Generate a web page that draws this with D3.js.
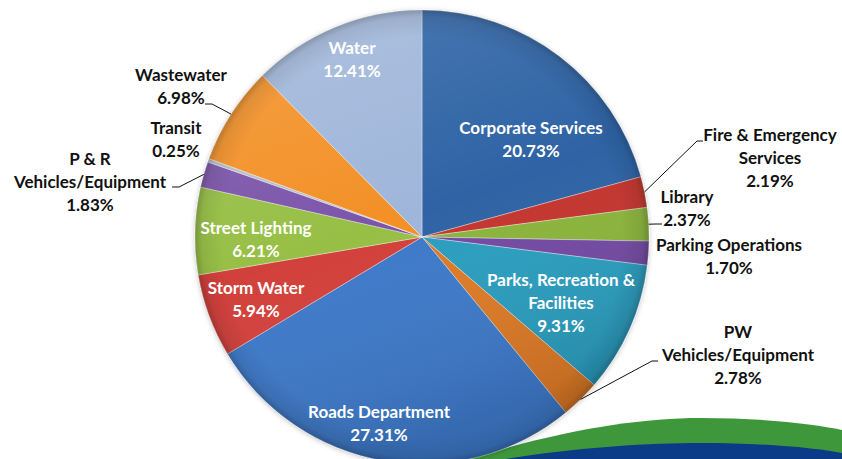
<!DOCTYPE html>
<html>
<head>
<meta charset="utf-8">
<script src="https://cdn.jsdelivr.net/npm/d3@7"></script>
<style>
  html, body { margin: 0; padding: 0; background: #fff; }
  svg { display: block; }
  text { font-family: Lato, "Open Sans", sans-serif; font-weight: 700; }
</style>
</head>
<body>
<svg id="chart" width="842" height="459"></svg>
<script>
// Capital budget share by service area (percent of total)
const categories = [
  "Corporate Services", "Fire & Emergency Services", "Library", "Parking Operations",
  "Parks, Recreation & Facilities", "PW Vehicles/Equipment", "Roads Department",
  "Storm Water", "Street Lighting", "P & R Vehicles/Equipment", "Transit",
  "Wastewater", "Water"
];
const shares = [20.73, 2.19, 2.37, 1.70, 9.31, 2.78, 27.31, 5.94, 6.21, 1.83, 0.25, 6.98, 12.41];
const sliceColors = [
  "#2e63a5", "#c3362f", "#8ab43a", "#7249a2", "#2b9dbf", "#dd7a26", "#3c79c9",
  "#d23f3b", "#97bf45", "#7c54aa", "#b6bdc9", "#f39025", "#9fb6da"
];
// label text lines for each slice
const labelLines = [
  ["Corporate Services", "20.73%"],
  ["Fire & Emergency", "Services", "2.19%"],
  ["Library", "2.37%"],
  ["Parking Operations", "1.70%"],
  ["Parks, Recreation &", "Facilities", "9.31%"],
  ["PW", "Vehicles/Equipment", "2.78%"],
  ["Roads Department", "27.31%"],
  ["Storm Water", "5.94%"],
  ["Street Lighting", "6.21%"],
  ["P & R", "Vehicles/Equipment", "1.83%"],
  ["Transit", "0.25%"],
  ["Wastewater", "6.98%"],
  ["Water", "12.41%"]
];

const data = categories.map((c, i) => ({ name: c, value: shares[i], color: sliceColors[i], lines: labelLines[i] }));

const svg = d3.select("#chart");
const cx = 422, cy = 237, R = 227;

// label placement: centre x, first-line y, text colour, optional leader elbow
const labelLayout = {
  "Corporate Services":            { x: 531, y: 128, fill: "#fff" },
  "Fire & Emergency Services":     { x: 770, y: 135, fill: "#111", leader: [[697, 141], [703, 141]] },
  "Library":                       { x: 687, y: 197, fill: "#111", leader: [[656, 224], [662, 224]] },
  "Parking Operations":            { x: 729, y: 245, fill: "#111" },
  "Parks, Recreation & Facilities":{ x: 561, y: 280, fill: "#fff" },
  "PW Vehicles/Equipment":         { x: 738, y: 332, fill: "#111", leader: [[652, 361], [658, 361]] },
  "Roads Department":              { x: 379, y: 412, fill: "#fff" },
  "Storm Water":                   { x: 256, y: 288, fill: "#fff" },
  "Street Lighting":               { x: 256, y: 228, fill: "#fff" },
  "P & R Vehicles/Equipment":      { x: 90,  y: 159, fill: "#111", leader: [[179, 187], [172, 187]] },
  "Transit":                       { x: 176, y: 128, fill: "#111" },
  "Wastewater":                    { x: 181, y: 75,  fill: "#111", leader: [[212, 104], [205, 104]] },
  "Water":                         { x: 352, y: 48,  fill: "#fff" }
};

const defs = svg.append("defs");

// soft shadow under the pie
const shadow = defs.append("filter").attr("id", "pieShadow")
  .attr("x", "-10%").attr("y", "-10%").attr("width", "120%").attr("height", "120%");
shadow.append("feDropShadow").attr("dx", 0).attr("dy", 1).attr("stdDeviation", 2.5)
  .attr("flood-color", "#000").attr("flood-opacity", 0.25);

// overall top-light / bottom-dark sheen
const sheen = defs.append("linearGradient").attr("id", "sheen")
  .attr("x1", 0).attr("y1", 0).attr("x2", 0.35).attr("y2", 1);
sheen.append("stop").attr("offset", "0%").attr("stop-color", "#fff").attr("stop-opacity", 0.16);
sheen.append("stop").attr("offset", "55%").attr("stop-color", "#fff").attr("stop-opacity", 0);
sheen.append("stop").attr("offset", "100%").attr("stop-color", "#000").attr("stop-opacity", 0.12);

// darker rim near the outer edge
const rim = defs.append("radialGradient").attr("id", "rim")
  .attr("cx", 0.5).attr("cy", 0.5).attr("r", 0.5);
rim.append("stop").attr("offset", "88%").attr("stop-color", "#000").attr("stop-opacity", 0);
rim.append("stop").attr("offset", "97%").attr("stop-color", "#000").attr("stop-opacity", 0.08);
rim.append("stop").attr("offset", "100%").attr("stop-color", "#000").attr("stop-opacity", 0.22);

// decorative swoosh in the lower right corner, sitting behind the pie
svg.append("path")
  .attr("d", "M470,459 C560,430 640,418 700,418 C765,418 815,424 842,430 L842,459 Z")
  .attr("fill", "#3f973c");
svg.append("path")
  .attr("d", "M505,459 C580,447 650,443 700,443 C765,443 815,448 842,453 L842,459 Z")
  .attr("fill", "#0b3b86");

const pie = d3.pie().value(d => d.value).sort(null);
const arcs = pie(data);
const arc = d3.arc().innerRadius(0).outerRadius(R);

const g = svg.append("g").attr("transform", `translate(${cx},${cy})`);

const slices = g.append("g").attr("filter", "url(#pieShadow)");
slices.selectAll("path.slice")
  .data(arcs)
  .join("path")
  .attr("class", "slice")
  .attr("d", arc)
  .attr("fill", d => d.data.color)
  .attr("stroke", "rgba(255,255,255,0.45)")
  .attr("stroke-width", 0.8)
  .attr("stroke-linejoin", "round");

// shading overlays across the whole disc
g.append("circle").attr("r", R).attr("fill", "url(#sheen)").attr("pointer-events", "none");
g.append("circle").attr("r", R).attr("fill", "url(#rim)").attr("pointer-events", "none");

// leader lines from the slice rim to the outside labels
const rimPoint = d => {
  const a = (d.startAngle + d.endAngle) / 2;
  return [cx + R * Math.sin(a), cy - R * Math.cos(a)];
};
const line = d3.line();
svg.append("g").selectAll("path.leader")
  .data(arcs.filter(d => labelLayout[d.data.name].leader))
  .join("path")
  .attr("class", "leader")
  .attr("d", d => line([rimPoint(d), ...labelLayout[d.data.name].leader]))
  .attr("fill", "none")
  .attr("stroke", "#111")
  .attr("stroke-width", 1);

// labels
const lineGap = 23;
const labels = svg.append("g").selectAll("text.label")
  .data(arcs)
  .join("text")
  .attr("class", "label")
  .attr("text-anchor", "middle")
  .attr("font-size", 17)
  .attr("fill", d => labelLayout[d.data.name].fill);
labels.each(function (d) {
  const L = labelLayout[d.data.name];
  d3.select(this).selectAll("tspan")
    .data(d.data.lines)
    .join("tspan")
    .attr("x", L.x)
    .attr("y", (t, i) => L.y + i * lineGap)
    .attr("dy", "0.36em")
    .text(t => t);
});
</script>
</body>
</html>
